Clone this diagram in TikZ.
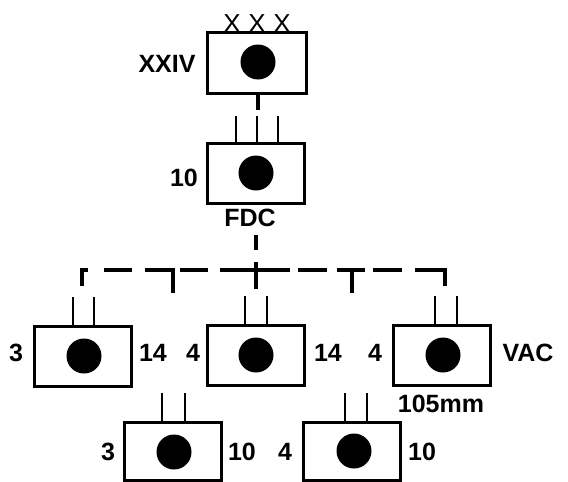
\documentclass[tikz,border=0pt]{standalone}
\usepackage{fontspec}
\setmainfont{Liberation Sans}
\begin{document}
\begin{tikzpicture}[x=1pt,y=-1pt,
  unit/.style={draw, line width=3pt, minimum width=97pt, minimum height=60pt, inner sep=0pt},
  dot/.style={circle, fill, inner sep=0pt, minimum size=35pt},
  lbl/.style={font=\bfseries\fontsize{25}{25}\selectfont, inner sep=0pt},
  xmark/.style={font=\fontsize{26}{26}\selectfont, inner sep=0pt, anchor=base},
  stem/.style={line width=2pt},
  trunk/.style={line width=4.5pt}]
\useasboundingbox (0,0) rectangle (568,482);
% units
\node[unit, minimum width=99pt, minimum height=61pt] (corps) at (256.5,62.5) {};
\node[unit] (fdcbox) at (255.5,173) {};
\node[unit] (bnA) at (83,356) {};
\node[unit] (bnB) at (256,355.5) {};
\node[unit] (bnC) at (442,355) {};
\node[unit, minimum height=58pt] (bnD) at (173,451) {};
\node[unit, minimum height=58pt] (bnE) at (352,451) {};
% dots
\node[dot] (corpsdot) at (258,62) {};
\node[dot] (fdcdot) at (256,173) {};
\node[dot] (dotA) at (84,356) {};
\node[dot] (dotB) at (256,355) {};
\node[dot] (dotC) at (443,355) {};
\node[dot] (dotD) at (174,452) {};
\node[dot] (dotE) at (354,451) {};
% corps marks
\node[xmark] (x1) at (232,32) {X};
\node[xmark] (x2) at (257,32) {X};
\node[xmark] (x3) at (282,32) {X};
% labels
\node[lbl] (lcorps) at (167,64) {XXIV};
\node[lbl] (lfdcnum) at (184,178) {10};
\node[lbl] (lfdc) at (250,218) {FDC};
\node[lbl] (lA1) at (16,353) {3};
\node[lbl] (lA2) at (153,353) {14};
\node[lbl] (lB1) at (193,353) {4};
\node[lbl] (lB2) at (328,353) {14};
\node[lbl] (lC1) at (375,353) {4};
\node[lbl] (lC2) at (528,353) {VAC};
\node[lbl] (lC3) at (441,404) {105mm};
\node[lbl] (lD1) at (108,452) {3};
\node[lbl] (lD2) at (242,452) {10};
\node[lbl] (lE1) at (285,452) {4};
\node[lbl] (lE2) at (422,452) {10};
% stems (unit size marks)
\foreach \dx in {-19.5,1.5,22.5} \draw[stem] ([xshift=\dx pt]fdcbox.north) -- ++(0,-26);
\foreach \dx in {-10,11} \draw[stem] ([xshift=\dx pt]bnA.north) -- ++(0,-28);
\foreach \dx in {-11,11} \draw[stem] ([xshift=\dx pt]bnB.north) -- ++(0,-28);
\foreach \dx in {-7,15} \draw[stem] ([xshift=\dx pt]bnC.north) -- ++(0,-28);
\foreach \dx in {-11,12} \draw[stem] ([xshift=\dx pt]bnD.north) -- ++(0,-28);
\foreach \dx in {-7,15} \draw[stem] ([xshift=\dx pt]bnE.north) -- ++(0,-28);
% corps to fdc
\coordinate (corpsend) at (258,110);
\draw[line width=3.5pt] ([xshift=1.5pt]corps.south) -- (corpsend);
% command/support dashed lines
\coordinate (hubtop) at (256,235);
\coordinate (hubbot) at (256,289);
\draw[trunk, dash pattern=on 15pt off 12pt on 27pt off 100pt] (hubtop) -- (hubbot);
\coordinate (lcorner) at (82,286);
\coordinate (rcorner) at (445,286);
\draw[trunk, dash pattern=on 22pt off 16pt on 28pt off 13pt on 30pt off 5pt on 28pt off 12pt on 70pt off 8pt on 29pt off 10pt on 28pt off 8pt on 29pt off 13pt on 46pt off 100pt]
  (lcorner) -- (82,270) -- (445,270) -- (rcorner);
\coordinate (tA) at (173,270);
\coordinate (tAend) at (173,293);
\coordinate (tB) at (352,270);
\coordinate (tBend) at (352,293);
\draw[trunk] (tA) -- (tAend);
\draw[trunk] (tB) -- (tBend);
\end{tikzpicture}
\end{document}
